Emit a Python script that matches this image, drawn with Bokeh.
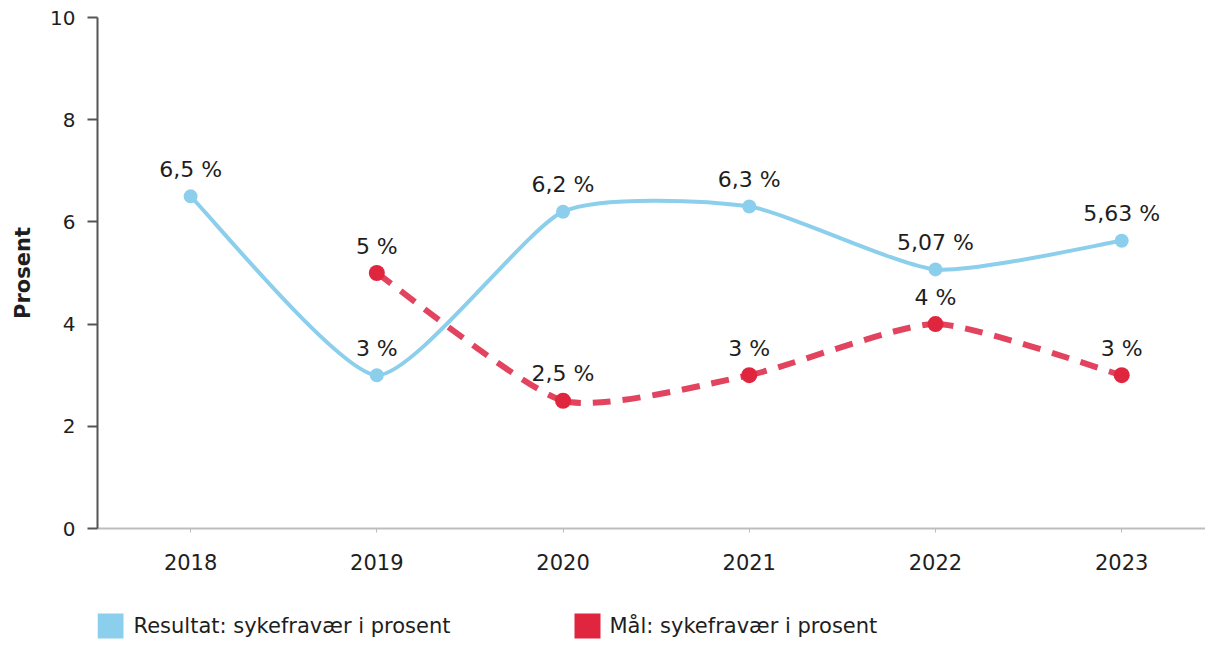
import numpy as np
from bokeh.plotting import figure
from bokeh.layouts import column
from bokeh.models import Range1d, FixedTicker, ColumnDataSource
from bokeh.embed import file_html
from bokeh.resources import INLINE
from bokeh.core.properties import value

# ---- data ----
years = [2018, 2019, 2020, 2021, 2022, 2023]
year_labels = ["2018", "2019", "2020", "2021", "2022", "2023"]
result_values = [6.5, 3.0, 6.2, 6.3, 5.07, 5.63]
result_labels = ["6,5 %", "3 %", "6,2 %", "6,3 %", "5,07 %", "5,63 %"]
goal_years = [2019, 2020, 2021, 2022, 2023]
goal_values = [5.0, 2.5, 3.0, 4.0, 3.0]
goal_labels = ["5 %", "2,5 %", "3 %", "4 %", "3 %"]
y_ticks = [0, 2, 4, 6, 8, 10]
series_names = ["Resultat: sykefravær i prosent", "Mål: sykefravær i prosent"]

BLUE = "#8ccfec"
RED_LINE = "#e2435e"
RED_DOT = "#e0253f"
FONT = "DejaVu Sans"
TXT = "#1e1e1e"
W = 1205
FRAME_LEFT = 97


def smooth_segments(xs, ys, k=1 / 10):
    n = len(xs)
    d = dict(x0=[], y0=[], x1=[], y1=[], cx0=[], cy0=[], cx1=[], cy1=[])
    for i in range(n - 1):
        a = i - 1 if i > 0 else i
        b = i + 2 if i + 2 < n else i + 1
        d["x0"].append(xs[i]); d["y0"].append(ys[i])
        d["x1"].append(xs[i + 1]); d["y1"].append(ys[i + 1])
        d["cx0"].append(xs[i] + (xs[i + 1] - xs[a]) * k)
        d["cy0"].append(ys[i] + (ys[i + 1] - ys[a]) * k)
        d["cx1"].append(xs[i + 1] - (xs[b] - xs[i]) * k)
        d["cy1"].append(ys[i + 1] - (ys[b] - ys[i]) * k)
    return ColumnDataSource(d)


p = figure(width=W, height=600, output_backend="svg", toolbar_location=None,
           x_range=Range1d(2017.5, 2023.45), y_range=Range1d(0, 10),
           min_border_left=FRAME_LEFT, min_border_top=17, min_border_right=0,
           min_border_bottom=72)
p.outline_line_color = None
p.xgrid.visible = False
p.ygrid.visible = False

# curves
p.bezier(x0="x0", y0="y0", x1="x1", y1="y1", cx0="cx0", cy0="cy0", cx1="cx1", cy1="cy1",
         source=smooth_segments(years, result_values), line_color=BLUE, line_width=4)
p.bezier(x0="x0", y0="y0", x1="x1", y1="y1", cx0="cx0", cy0="cy0", cx1="cx1", cy1="cy1",
         source=smooth_segments(goal_years, goal_values), line_color=RED_LINE, line_width=6,
         line_dash="18 12")

p.scatter(years, result_values, size=14, fill_color=BLUE, line_color=None)
p.scatter(goal_years, goal_values, size=16, fill_color=RED_DOT, line_color=None)

p.text(years, result_values, text=result_labels, y_offset=-27, text_align="center",
       text_baseline="middle", text_font=value(FONT), text_font_size="22px", text_color=TXT)
p.text(goal_years, goal_values, text=goal_labels, y_offset=-27, text_align="center",
       text_baseline="middle", text_font=value(FONT), text_font_size="22px", text_color=TXT)

# axes
p.xaxis.ticker = FixedTicker(ticks=years)
p.xaxis.major_label_overrides = {y: l for y, l in zip(years, year_labels)}
p.xaxis.axis_line_color = "#bdbdbd"
p.xaxis.axis_line_width = 2
p.xaxis.major_tick_line_color = "#bdbdbd"
p.xaxis.major_tick_out = 4
p.xaxis.major_tick_in = 0
p.xaxis.minor_tick_line_color = None
p.xaxis.major_label_standoff = 21
p.xaxis.major_label_text_font = FONT
p.xaxis.major_label_text_font_size = "21px"
p.xaxis.major_label_text_color = TXT

p.yaxis.ticker = FixedTicker(ticks=y_ticks)
p.yaxis.axis_line_color = "#555555"
p.yaxis.axis_line_width = 2
p.yaxis.major_tick_line_color = "#555555"
p.yaxis.major_tick_line_width = 2
p.yaxis.major_tick_out = 10
p.yaxis.major_tick_in = 0
p.yaxis.minor_tick_line_color = None
p.yaxis.major_label_standoff = 12
p.yaxis.major_label_text_font = FONT
p.yaxis.major_label_text_font_size = "20px"
p.yaxis.major_label_text_color = TXT
p.yaxis.axis_label = "Prosent"
p.yaxis.axis_label_text_font = FONT
p.yaxis.axis_label_text_font_size = "21px"
p.yaxis.axis_label_text_font_style = "bold"
p.yaxis.axis_label_text_color = TXT
p.yaxis.axis_label_standoff = 12

# legend strip: a small figure whose frame is aligned with the main frame,
# with x expressed in page pixels
LH = 45
lg = figure(width=W, height=LH, output_backend="svg", toolbar_location=None,
            x_range=Range1d(FRAME_LEFT, W), y_range=Range1d(0, LH),
            min_border_left=FRAME_LEFT, min_border_right=0, min_border_top=0,
            min_border_bottom=0)
lg.axis.visible = False
lg.grid.visible = False
lg.outline_line_color = None
legend_src = ColumnDataSource(dict(
    sx=[110, 587], tx=[133, 609], y=[19.5, 19.5],
    name=series_names, color=[BLUE, RED_DOT]))
lg.rect(x="sx", y="y", width=26, height=25, fill_color="color", line_color=None,
        source=legend_src)
lg.text(x="tx", y="y", text="name", text_baseline="middle", text_align="left",
        text_font=value(FONT), text_font_size="21px", text_color=TXT, source=legend_src)

layout = column(p, lg, spacing=0)
open("out.html", "w").write(file_html(layout, INLINE))
